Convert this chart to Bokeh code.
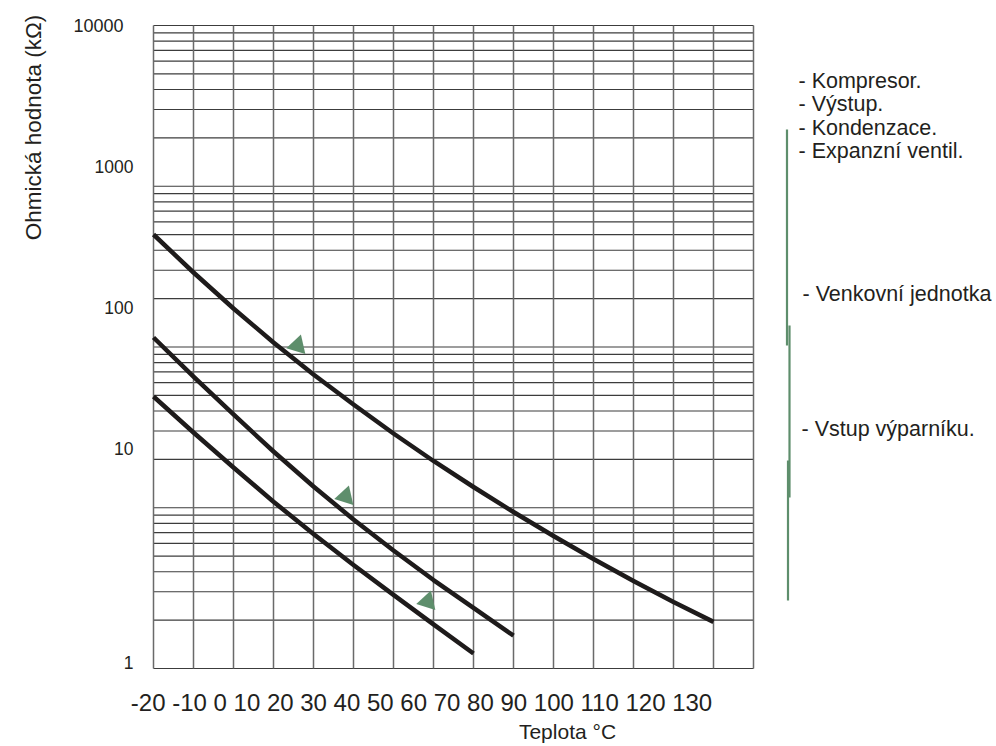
import numpy as np
from bokeh.plotting import figure
from bokeh.models import Range1d, Label
from bokeh.embed import file_html
from bokeh.resources import INLINE

# ---------------- data ----------------
grid_temps = list(range(-20, 131, 10))
decades = [1, 10, 100, 1000]
grid_res = [d * k for d in decades for k in range(1, 10)] + [10000]

curve_top_t = [-20, -10, 0, 10, 20, 30, 40, 50, 60, 70, 80, 90, 100, 110, 120]
curve_top_r = [501, 290.7, 173.6, 106.7, 67.4, 43.9, 28.97, 19.54, 13.46, 9.41, 6.67, 4.80, 3.50, 2.59, 1.95]

curve_mid_t = [-20, -10, 0, 10, 20, 30, 40, 50, 60, 70]
curve_mid_r = [114.6, 65.5, 38.04, 22.38, 13.56, 8.45, 5.42, 3.55, 2.38, 1.60]

curve_low_t = [-20, -10, 0, 10, 20, 30, 40, 50, 60]
curve_low_r = [49.2, 29.4, 17.8, 10.9, 6.87, 4.40, 2.87, 1.88, 1.24]

marker_t = [16.0, 28.0, 48.5]
marker_r = [102.0, 11.75, 2.61]

y_tick_labels = ["10000", "1000", "100", "10", "1"]
x_tick_labels = ["-20", "-10", "0", "10", "20", "30", "40", "50", "60", "70",
                 "80", "90", "100", "110", "120", "130"]
y_title = "Ohmická hodnota (kΩ)"
x_title = "Teplota °C"
legend_group_a = ["- Kompresor.", "- Výstup.", "- Kondenzace.", "- Expanzní ventil."]
legend_group_b = ["- Venkovní jednotka"]
legend_group_c = ["- Vstup výparníku."]

# ---------------- layout ----------------
W, H = 992, 744
PX_PER_C = 4.0            # 40 px per 10 °C column
PX_PER_DEC = 160.75       # px per decade
GRID_LEFT = 153
GRID_TOP = 25
x0 = -20 - GRID_LEFT / PX_PER_C
x1 = x0 + W / PX_PER_C
ylog_top = 4 + GRID_TOP / PX_PER_DEC
ylog_bot = ylog_top - H / PX_PER_DEC


def px2x(px):
    return x0 + px / PX_PER_C


def py2y(py):
    return 10 ** (ylog_top - py / PX_PER_DEC)


def sx(px):
    return px


def sy(py):
    return H - py


FONT = "Liberation Sans"
TXT = "#231f20"
GREEN = "#5e8e6c"

p = figure(width=W, height=H, output_backend="svg", toolbar_location=None,
           x_axis_location=None, y_axis_location=None, y_axis_type="log",
           x_range=Range1d(x0, x1), y_range=Range1d(10 ** ylog_bot, 10 ** ylog_top),
           min_border=0, min_border_left=0, min_border_right=0,
           min_border_top=0, min_border_bottom=0)
p.outline_line_color = None
p.xgrid.visible = False
p.ygrid.visible = False
p.background_fill_color = "white"
p.border_fill_color = "white"

# grid
nh = len(grid_res)
p.segment(x0=[grid_temps[0]] * nh, y0=grid_res, x1=[grid_temps[-1]] * nh, y1=grid_res,
          line_color="#3c3c3c", line_width=1.1)
nv = len(grid_temps)
p.segment(x0=grid_temps, y0=[grid_res[0]] * nv, x1=grid_temps, y1=[grid_res[-1]] * nv,
          line_color="#6a6a6a", line_width=1.5)

# curves
for t, r in [(curve_top_t, curve_top_r), (curve_mid_t, curve_mid_r), (curve_low_t, curve_low_r)]:
    p.line(t, r, line_color="#1e1b1b", line_width=4.5, line_join="round")

# markers
p.scatter(marker_t, marker_r, marker="triangle", size=20, angle=-0.3,
          fill_color=GREEN, line_color=None)

# green bracket lines (decoration at right)
br_x = [786.5, 789.0, 787.5]
br_y0 = [129, 325, 460]
br_y1 = [345, 497, 600]
p.segment(x0=[px2x(v) for v in br_x], y0=[py2y(v) for v in br_y0],
          x1=[px2x(v) for v in br_x], y1=[py2y(v) for v in br_y1],
          line_color=GREEN, line_width=2.2)

# y tick labels
ytick_pos = [(123, 25), (133, 166), (133, 307), (133, 448), (133, 662)]
ytick_size = ["18px", "17.5px", "17.5px", "17.5px", "17.5px"]
for txt, (px, py), fs in zip(y_tick_labels, ytick_pos, ytick_size):
    p.add_layout(Label(x=sx(px), y=sy(py), x_units="screen", y_units="screen", text=txt,
                       text_font=FONT, text_font_size=fs, text_color=TXT,
                       text_align="right", text_baseline="middle"))

# x tick labels (as printed in the original, one spaced row)
p.add_layout(Label(x=sx(421), y=sy(702), x_units="screen", y_units="screen",
                   text=" ".join(x_tick_labels), text_font=FONT, text_font_size="24px",
                   text_color=TXT, text_align="center", text_baseline="middle"))

# axis titles
p.add_layout(Label(x=sx(33), y=sy(127), x_units="screen", y_units="screen", text=y_title,
                   angle=np.pi / 2, text_font=FONT, text_font_size="22.5px", text_color=TXT,
                   text_align="center", text_baseline="middle"))
p.add_layout(Label(x=sx(567), y=sy(731), x_units="screen", y_units="screen", text=x_title,
                   text_font=FONT, text_font_size="21px", text_color=TXT,
                   text_align="center", text_baseline="middle"))

# legend texts
for i, txt in enumerate(legend_group_a):
    p.add_layout(Label(x=sx(798), y=sy(80 + i * 23.5), x_units="screen", y_units="screen",
                       text=txt, text_font=FONT, text_font_size="21.5px", text_color=TXT,
                       text_align="left", text_baseline="middle"))
p.add_layout(Label(x=sx(802), y=sy(293), x_units="screen", y_units="screen",
                   text=legend_group_b[0], text_font=FONT, text_font_size="21.5px",
                   text_color=TXT, text_align="left", text_baseline="middle"))
p.add_layout(Label(x=sx(801), y=sy(428), x_units="screen", y_units="screen",
                   text=legend_group_c[0], text_font=FONT, text_font_size="21.5px",
                   text_color=TXT, text_align="left", text_baseline="middle"))

open("out.html", "w").write(file_html(p, INLINE))
